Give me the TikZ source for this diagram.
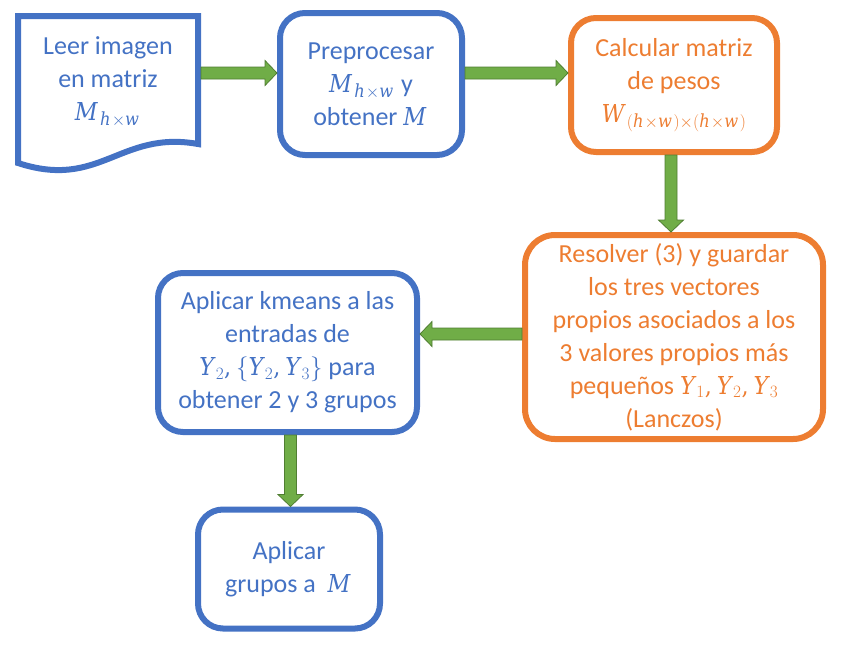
\documentclass[tikz,border=0pt]{standalone}
\usepackage{fontspec}
\setmainfont{Carlito}
\newfontfamily\mlfont{DejaVu Serif}[NFSSFamily=mlf, FakeStretch=0.9, Scale=0.95]
\DeclareSymbolFont{mlletters}{TU}{mlf}{m}{it}
\DeclareSymbolFont{mlops}{TU}{mlf}{m}{n}
\DeclareMathSymbol{M}{\mathalpha}{mlletters}{`M}
\DeclareMathSymbol{W}{\mathalpha}{mlletters}{`W}
\DeclareMathSymbol{Y}{\mathalpha}{mlletters}{`Y}
\DeclareMathSymbol{h}{\mathalpha}{mlletters}{`h}
\DeclareMathSymbol{w}{\mathalpha}{mlletters}{`w}
\DeclareMathSymbol{1}{\mathord}{mlops}{`1}
\DeclareMathSymbol{2}{\mathord}{mlops}{`2}
\DeclareMathSymbol{3}{\mathord}{mlops}{`3}
\DeclareMathSymbol{(}{\mathopen}{mlops}{`(}
\DeclareMathSymbol{)}{\mathclose}{mlops}{`)}
\DeclareMathSymbol{,}{\mathpunct}{mlops}{`,}
\DeclareMathSizes{26}{26}{19}{14}
\usetikzlibrary{calc}
\definecolor{oblue}{HTML}{4472C4}
\definecolor{oorange}{HTML}{ED7D31}
\definecolor{ogreen}{HTML}{70AD47}
\definecolor{ogreendark}{HTML}{507E32}
\tikzset{
  boxb/.style={draw=oblue, line width=6pt, rounded corners=25pt, text=oblue, align=center, font=\fontsize{26}{33}\selectfont, inner sep=0pt},
  boxo/.style={boxb, draw=oorange, text=oorange},
  blockarrow/.style={fill=ogreen, draw=ogreendark, line width=0.8pt, line join=miter},
}
\newcommand\blockarr[2]{%
  \coordinate (ba-h) at ($(#2)!12pt!(#1)$);
  \draw[blockarrow] ($(#1)!6pt!90:(#2)$) -- ($(ba-h)!6pt!-90:(#1)$) -- ($(ba-h)!12.5pt!-90:(#1)$) -- (#2)
     -- ($(ba-h)!12.5pt!90:(#1)$) -- ($(ba-h)!6pt!90:(#1)$) -- ($(#1)!6pt!-90:(#2)$) -- cycle;}
\begin{document}
\begin{tikzpicture}[x=1pt,y=-1pt]
\useasboundingbox (0,0) rectangle (842,646);
% document shape
\draw[draw=oblue, line width=6pt, line join=miter]
  (18,163) -- (18,16) -- (198,16) -- (198,144)
  .. controls (120,130) and (100,190) .. (18,163) -- cycle;
\node[text=oblue, align=center, font=\fontsize{26}{33}\selectfont, inner sep=0pt] (doc) at (108,82)
  {Leer imagen\\en matriz\\$M_{h\times w}$};
\coordinate (docR) at (201,73);
\coordinate (row1) at (0,73);
% boxes
\node[boxb, minimum width=182pt, minimum height=142pt] (b2) at (371,84)
  {Preprocesar\\$M_{h\times w}$ y\\obtener $M$};
\node[boxo, minimum width=206pt, minimum height=134pt] (b3) at (674,85)
  {Calcular matriz\\de pesos\\$W_{(h\times w)\times(h\times w)}$};
\node[boxo, rounded corners=30pt, minimum width=298pt, minimum height=204pt] (b4) at (674,337)
  {Resolver (3) y guardar\\los tres vectores\\propios asociados a los\\3 valores propios más\\pequeños $Y_1,Y_2,Y_3$\\(Lanczos)};
\node[boxb, minimum width=259pt, minimum height=159pt] (b5) at (287.5,352.5)
  {Aplicar kmeans a las\\entradas de\\$Y_2,\{Y_2,Y_3\}$ para\\obtener 2 y 3 grupos};
\node[boxb, minimum width=182pt, minimum height=119pt] (b6) at (289,569)
  {Aplicar\\grupos a\ \ $M$};
% connectors
\coordinate (col1) at (671,0);
\coordinate (row2) at (0,334);
\coordinate (col2) at (290.5,0);
\blockarr{docR |- row1}{b2.west |- row1}
\blockarr{b2.east |- row1}{b3.west |- row1}
\blockarr{b3.south -| col1}{b4.north -| col1}
\blockarr{b4.west |- row2}{b5.east |- row2}
\blockarr{b5.south -| col2}{b6.north -| col2}
\end{tikzpicture}
\end{document}
